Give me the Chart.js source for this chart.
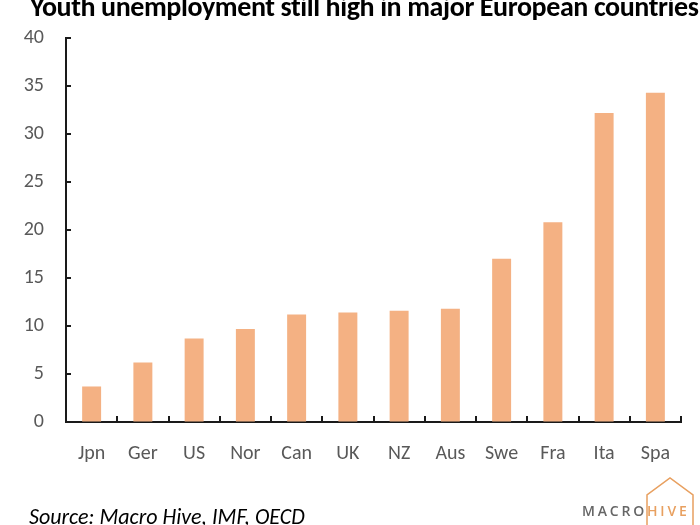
<!DOCTYPE html>
<html lang="en">
<head>
    <meta charset="UTF-8">
    <title>Youth unemployment</title>
    <script src="https://cdn.jsdelivr.net/npm/chart.js"></script>
    <style>
        body {
            margin: 0;
            padding: 0;
            background: #ffffff;
            font-family: Carlito, 'Open Sans', sans-serif;
            overflow: hidden;
        }
        .wrap {
            position: relative;
            width: 700px;
            height: 525px;
            overflow: hidden;
        }
        .title {
            position: absolute;
            left: 30px;
            top: -11px;
            font-size: 28px;
            font-weight: bold;
            letter-spacing: -0.4px;
            white-space: nowrap;
            color: #000;
        }
        .source {
            position: absolute;
            left: 29px;
            top: 503px;
            font-size: 22px;
            font-style: italic;
            color: #000;
            white-space: nowrap;
        }
        .logo {
            position: absolute;
            left: 580px;
            top: 474px;
        }
        canvas { display: block; }
    </style>
</head>
<body>
<div class="wrap">
    <canvas id="myChart" width="700" height="525"></canvas>
    <div class="title">Youth unemployment still high in major European countries</div>
    <div class="source">Source: Macro Hive, IMF, OECD</div>
    <svg class="logo" width="120" height="51" viewBox="0 0 120 51">
        <polyline points="67,51 67,21 90,4 113,21 113,51" fill="none" stroke="#e8a060" stroke-width="1.5"/>
        <text x="2" y="42" font-family="'Open Sans', sans-serif" font-size="14" font-weight="600" letter-spacing="2.8" fill="#666">MACRO<tspan fill="#e8a060">HIVE</tspan></text>
    </svg>
</div>

<script>
    // data
    const countries = ['Jpn', 'Ger', 'US', 'Nor', 'Can', 'UK', 'NZ', 'Aus', 'Swe', 'Fra', 'Ita', 'Spa'];
    const youthUnemployment = [3.7, 6.2, 8.7, 9.7, 11.2, 11.4, 11.6, 11.8, 17.0, 20.8, 32.2, 34.3];
    const yTicks = [0, 5, 10, 15, 20, 25, 30, 35, 40];

    const axisColor = '#1a1a1a';
    const labelColor = '#595959';

    // small inward tick marks, like the original spreadsheet chart
    const innerTicks = {
        id: 'innerTicks',
        afterDraw(chart) {
            const ctx = chart.ctx;
            const x = chart.scales.x;
            const y = chart.scales.y;
            ctx.save();
            ctx.strokeStyle = axisColor;
            ctx.lineWidth = 2;
            ctx.beginPath();
            yTicks.forEach(v => {
                const py = Math.round(y.getPixelForValue(v));
                ctx.moveTo(x.left, py);
                ctx.lineTo(x.left + 5, py);
            });
            const half = (x.getPixelForValue(1) - x.getPixelForValue(0)) / 2;
            for (let i = 1; i <= countries.length; i++) {
                const px = Math.round(x.getPixelForValue(i) - half);
                ctx.moveTo(px, y.bottom);
                ctx.lineTo(px, y.bottom - 6);
            }
            ctx.stroke();
            ctx.restore();
        }
    };

    const ctx = document.getElementById('myChart').getContext('2d');
    const myChart = new Chart(ctx, {
        type: 'bar',
        data: {
            labels: countries,
            datasets: [{
                data: youthUnemployment,
                backgroundColor: '#f4b183',
                barPercentage: 0.37,
                categoryPercentage: 1.0
            }]
        },
        options: {
            responsive: false,
            animation: false,
            layout: {
                padding: { top: 38, right: 19, bottom: 0, left: 0 }
            },
            plugins: {
                legend: { display: false },
                tooltip: { enabled: false }
            },
            scales: {
                x: {
                    grid: { drawOnChartArea: false, drawTicks: false },
                    border: { color: axisColor, width: 2 },
                    ticks: {
                        color: labelColor,
                        padding: 20,
                        font: { family: "Carlito, 'Open Sans', sans-serif", size: 20 }
                    },
                    afterFit(scale) { scale.height = 103; }
                },
                y: {
                    min: 0,
                    max: 40,
                    grid: { drawOnChartArea: false, drawTicks: false },
                    border: { color: axisColor, width: 2 },
                    ticks: {
                        stepSize: 5,
                        color: labelColor,
                        padding: 22,
                        font: { family: "Carlito, 'Open Sans', sans-serif", size: 20 }
                    },
                    afterFit(scale) { scale.width = 66; }
                }
            }
        },
        plugins: [innerTicks]
    });
</script>
</body>
</html>
